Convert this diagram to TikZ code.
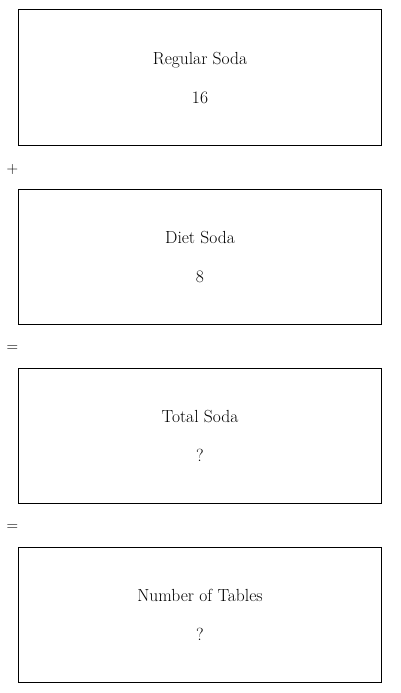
\documentclass[tikz,border=0pt]{standalone}
\usepackage{fontspec}
\begin{document}
\begin{tikzpicture}[x=1pt,y=-1pt,
  box/.style={draw=black,line width=1pt,fill=white},
  lbl/.style={font=\fontsize{17.5}{20}\selectfont,inner sep=0pt,anchor=base},
  op/.style={font=\fontsize{16}{18}\selectfont,inner sep=0pt}]
\useasboundingbox[fill=white] (0,0) rectangle (400,693);
\draw[box] (18,10) rectangle (381,145);
\node[lbl] (t1) at (200,64.5) {Regular Soda};
\node[lbl] (v1) at (200,103.5) {16};
\node[op] (p1) at (12.5,170) {+};
\draw[box] (18,189) rectangle (381,324);
\node[lbl] (t2) at (200,243.5) {Diet Soda};
\node[lbl] (v2) at (200,282.5) {8};
\node[op] (e1) at (12.5,349) {=};
\draw[box] (18,368) rectangle (381,503);
\node[lbl] (t3) at (200,422.5) {Total Soda};
\node[lbl] (v3) at (200,461.5) {?};
\node[op] (e2) at (12.5,528) {=};
\draw[box] (18,547) rectangle (381,682);
\node[lbl] (t4) at (200,601.5) {Number of Tables};
\node[lbl] (v4) at (200,640.5) {?};
\end{tikzpicture}
\end{document}
